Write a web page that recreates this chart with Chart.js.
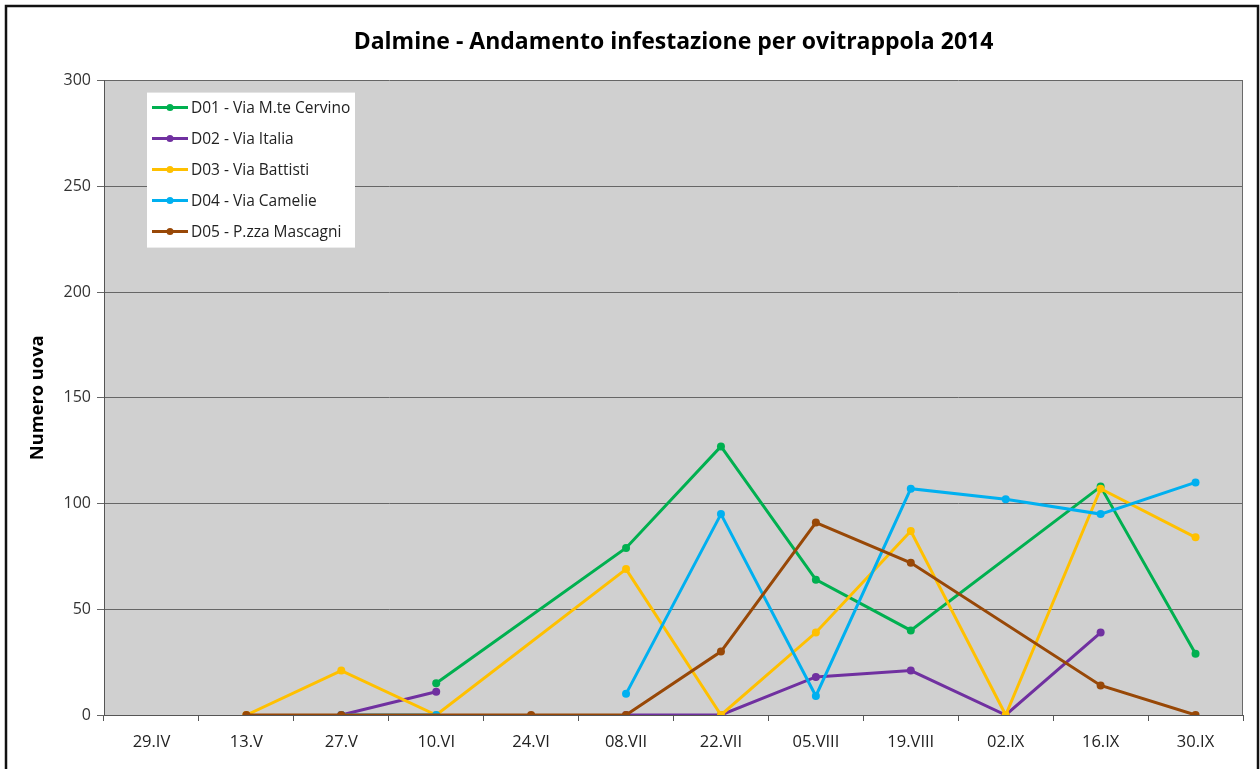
<!DOCTYPE html>
<html>
<head>
<meta charset="utf-8">
<script src="https://cdn.jsdelivr.net/npm/chart.js@4.4.1/dist/chart.umd.min.js"></script>
<style>
  html, body { margin: 0; padding: 0; background: #fff; }
  #wrap { width: 1260px; height: 769px; position: relative; }
</style>
</head>
<body>
<div id="wrap"><canvas id="chart" width="1260" height="769"></canvas></div>
<script>
// dati
var categories = ['29.IV', '13.V', '27.V', '10.VI', '24.VI', '08.VII', '22.VII', '05.VIII', '19.VIII', '02.IX', '16.IX', '30.IX'];
var d01 = [null, null, null, 15, null, 79, 127, 64, 40, null, 108, 29];
var d02 = [null, null, 0, 11, null, 0, 0, 18, 21, 0, 39, null];
var d03 = [null, 0, 21, 0, null, 69, 0, 39, 87, 0, 107, 84];
var d04 = [null, null, 0, 0, null, 10, 95, 9, 107, 102, 95, 110];
var d05 = [null, 0, 0, null, 0, 0, 30, 91, 72, null, 14, 0];
var seriesNames = ['D01 - Via M.te Cervino', 'D02 - Via Italia', 'D03 - Via Battisti', 'D04 - Via Camelie', 'D05 - P.zza Mascagni'];
var seriesColors = ['#00B050', '#7030A0', '#FFC000', '#00B0F0', '#984807'];
var yTicks = [0, 50, 100, 150, 200, 250, 300];

var FONT = "'Open Sans', 'Noto Sans', sans-serif";

function makeSet(i, data, span) {
  return {
    label: seriesNames[i],
    data: data,
    borderColor: seriesColors[i],
    backgroundColor: seriesColors[i],
    borderWidth: 3,
    pointRadius: 4,
    pointHoverRadius: 4,
    pointBorderWidth: 0,
    tension: 0,
    spanGaps: span,
    order: 5 - i
  };
}

var sets = [
  makeSet(0, d01, true),
  makeSet(1, d02, false),
  makeSet(2, d03, true),
  makeSet(3, d04, false),
  makeSet(4, d05, true)
];
// D05: niente linea tra 27.V e 24.VI
sets[4].segment = {
  borderColor: function(ctx) {
    return (ctx.p0DataIndex === 2 && ctx.p1DataIndex === 4) ? 'rgba(0,0,0,0)' : undefined;
  }
};

// sfondo, cornice e bordo area grafico
var framePlugin = {
  id: 'frame',
  beforeDraw: function(chart) {
    var c = chart.ctx, a = chart.chartArea;
    c.save();
    c.fillStyle = '#fff';
    c.fillRect(0, 0, chart.width, chart.height);
    c.fillStyle = '#D0D0D0';
    c.fillRect(a.left, a.top, a.right - a.left, a.bottom - a.top);
    c.strokeStyle = '#111';
    c.lineWidth = 2.5;
    c.strokeRect(6, 6, 1252, 800);
    c.restore();
  },
  beforeDatasetsDraw: function(chart) {
    var c = chart.ctx, a = chart.chartArea;
    c.save();
    c.strokeStyle = '#6a6a6a';
    c.lineWidth = 1;
    c.beginPath();
    c.moveTo(a.right - 0.5, a.top);
    c.lineTo(a.right - 0.5, a.bottom);
    c.stroke();
    c.restore();
  }
};

// legenda dentro l'area del grafico
var legendPlugin = {
  id: 'boxLegend',
  afterDraw: function(chart) {
    var c = chart.ctx, a = chart.chartArea;
    var x = a.left + 43, y = a.top + 12;
    c.save();
    c.fillStyle = '#fff';
    c.fillRect(x, y, 208, 155);
    c.font = '15.5px ' + FONT;
    c.textBaseline = 'middle';
    chart.data.datasets.forEach(function(ds, i) {
      var ly = y + 15 + i * 31;
      c.strokeStyle = ds.borderColor;
      c.lineWidth = 3;
      c.beginPath();
      c.moveTo(x + 5, ly);
      c.lineTo(x + 41, ly);
      c.stroke();
      c.fillStyle = ds.borderColor;
      c.beginPath();
      c.arc(x + 23, ly, 3.5, 0, Math.PI * 2);
      c.fill();
      c.fillStyle = '#222';
      c.fillText(ds.label, x + 44, ly + 1);
    });
    c.restore();
  }
};

new Chart(document.getElementById('chart').getContext('2d'), {
  type: 'line',
  data: { labels: categories, datasets: sets },
  plugins: [framePlugin, legendPlugin],
  options: {
    responsive: false,
    animation: false,
    layout: { padding: { left: 0, right: 17, top: 0, bottom: 0 } },
    plugins: {
      legend: { display: false },
      tooltip: { enabled: false },
      title: {
        display: true,
        fullSize: false,
        text: 'Dalmine - Andamento infestazione per ovitrappola 2014',
        color: '#000',
        font: { family: FONT, size: 23, weight: 'bold', lineHeight: 1.2 },
        padding: { top: 29, bottom: 24 }
      }
    },
    scales: {
      x: {
        offset: true,
        grid: { offset: true, drawOnChartArea: false, drawTicks: true, tickLength: 6, color: '#555' },
        border: { color: '#555', width: 1 },
        ticks: { color: '#222', font: { family: FONT, size: 16.5 }, padding: 11, maxRotation: 0, autoSkip: false },
        afterFit: function(s) { s.height = 54; }
      },
      y: {
        min: 0,
        max: 300,
        afterBuildTicks: function(s) { s.ticks = yTicks.map(function(v) { return { value: v }; }); },
        grid: { color: '#666', lineWidth: 1, tickLength: 7, drawTicks: true },
        border: { color: '#555', width: 1 },
        ticks: { color: '#333', font: { family: FONT, size: 16 }, padding: 6 },
        title: {
          display: true,
          text: 'Numero uova',
          color: '#000',
          font: { family: FONT, size: 18.3, weight: 'bold' },
          padding: { top: 27, bottom: 0 }
        },
        afterFit: function(s) { s.width = 104; }
      }
    }
  }
});
</script>
</body>
</html>
